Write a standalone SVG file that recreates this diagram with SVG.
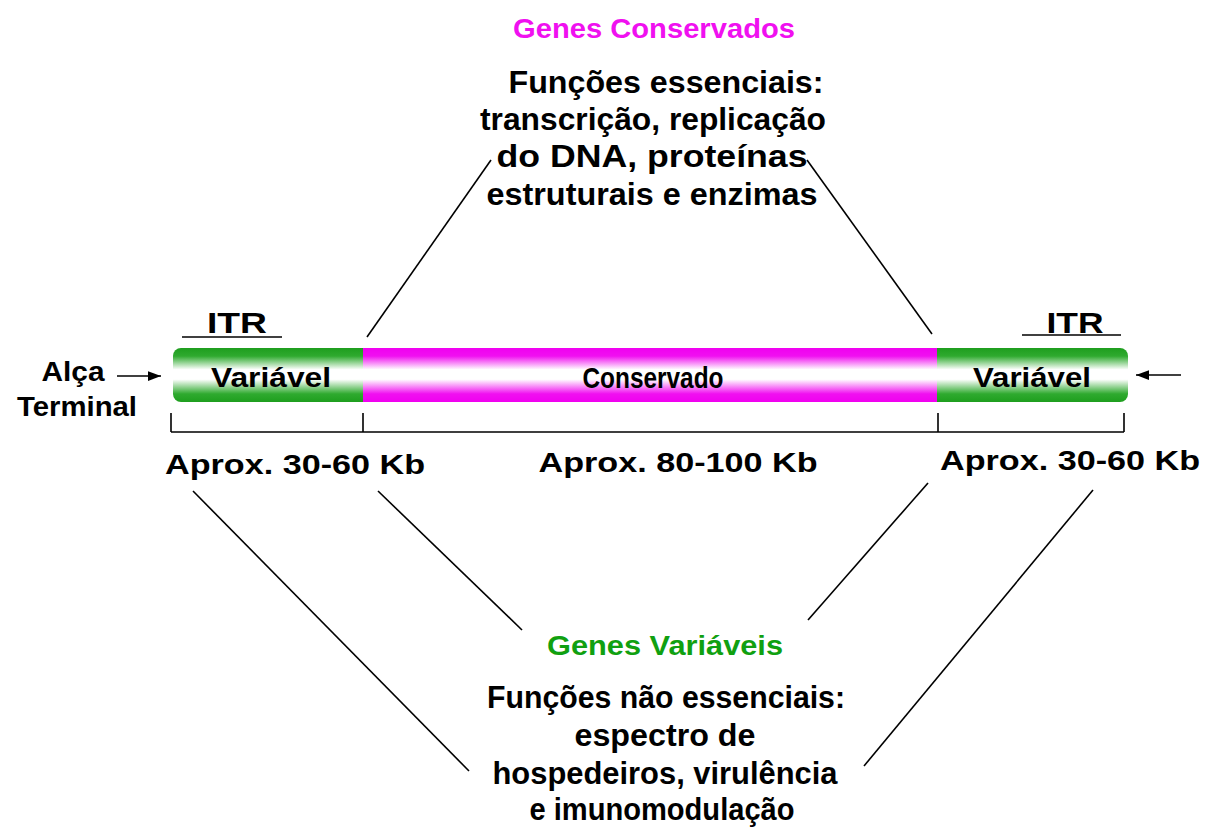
<svg xmlns="http://www.w3.org/2000/svg" width="1209" height="828" viewBox="0 0 1209 828">
<style>
text{font-family:"Comic Sans MS","Liberation Sans",Arial,sans-serif;font-weight:bold;fill:#000;text-anchor:middle}
.big{font-size:31px}
.mid{font-size:28px}
.mag{fill:#F010F0}
.grn{fill:#10A010}
.ln{stroke:#000;stroke-width:1.6;fill:none}
</style>
<defs>
<linearGradient id="gG" x1="0" y1="0" x2="0" y2="1">
<stop offset="0" stop-color="#1E9E1E"/><stop offset="0.15" stop-color="#2FAA2F"/><stop offset="0.4" stop-color="#fff"/><stop offset="0.58" stop-color="#fff"/><stop offset="0.85" stop-color="#2FAA2F"/><stop offset="1" stop-color="#1E9E1E"/>
</linearGradient>
<linearGradient id="gM" x1="0" y1="0" x2="0" y2="1">
<stop offset="0" stop-color="#F000F0"/><stop offset="0.15" stop-color="#F010F0"/><stop offset="0.4" stop-color="#fff"/><stop offset="0.58" stop-color="#fff"/><stop offset="0.85" stop-color="#F010F0"/><stop offset="1" stop-color="#F000F0"/>
</linearGradient>
<marker id="ah" viewBox="0 0 12 10" refX="12" refY="5" markerWidth="13" markerHeight="11" markerUnits="userSpaceOnUse" orient="auto"><path d="M0,0.5 L12,5 L0,9.5 Z" fill="#000"/></marker>
</defs>
<rect width="1209" height="828" fill="#fff"/>
<g id="connectors">
<line class="ln" x1="367" y1="337" x2="491" y2="160"/>
<line class="ln" x1="932" y1="334" x2="807" y2="160"/>
<line class="ln" x1="193" y1="491" x2="469" y2="771"/>
<line class="ln" x1="378" y1="491" x2="522" y2="630"/>
<line class="ln" x1="928" y1="483" x2="808" y2="620"/>
<line class="ln" x1="1093" y1="490" x2="864" y2="766"/>
<line class="ln" x1="117" y1="376" x2="161" y2="376" marker-end="url(#ah)"/>
<line class="ln" x1="1181" y1="375" x2="1136" y2="375" marker-end="url(#ah)"/>
</g>
<g id="top-label">
<text class="mid mag" x="654" y="38" textLength="282" lengthAdjust="spacingAndGlyphs">Genes Conservados</text>
<text class="big" x="666" y="93" textLength="315" lengthAdjust="spacingAndGlyphs">Funções essenciais:</text>
<text class="big" x="653" y="130" textLength="346" lengthAdjust="spacingAndGlyphs">transcrição, replicação</text>
<text class="big" x="652" y="167" textLength="311" lengthAdjust="spacingAndGlyphs">do DNA, proteínas</text>
<text class="big" x="652" y="205" textLength="331" lengthAdjust="spacingAndGlyphs">estruturais e enzimas</text>
</g>
<g id="bar">
<rect x="173" y="348" width="205" height="54" rx="8" fill="url(#gG)"/>
<rect x="925" y="348" width="203" height="54" rx="8" fill="url(#gG)"/>
<rect x="363" y="348" width="574" height="54" fill="url(#gM)"/>
<text class="mid" x="271" y="387" textLength="120" lengthAdjust="spacingAndGlyphs">Variável</text>
<text class="mid" style="font-size:30px" x="653" y="388" textLength="141" lengthAdjust="spacingAndGlyphs">Conservado</text>
<text class="mid" x="1032" y="387" textLength="118" lengthAdjust="spacingAndGlyphs">Variável</text>
</g>
<g id="itr-left">
<text class="mid" style="font-size:30px" x="237" y="333" textLength="60" lengthAdjust="spacingAndGlyphs">ITR</text>
<line class="ln" x1="182" y1="337" x2="282" y2="337"/>
</g>
<g id="itr-right">
<text class="mid" style="font-size:30px" x="1075" y="333" textLength="57" lengthAdjust="spacingAndGlyphs">ITR</text>
<line class="ln" x1="1022" y1="335" x2="1121" y2="335"/>
</g>
<g id="alca">
<text class="mid" x="73" y="381" textLength="63" lengthAdjust="spacingAndGlyphs">Alça</text>
<text class="mid" x="77" y="416" textLength="120" lengthAdjust="spacingAndGlyphs">Terminal</text>
</g>
<g id="scale">
<path class="ln" d="M171,432 H1124 M171,413 V432 M363,413 V432 M938,413 V432 M1124,413 V432"/>
<text class="mid" x="295" y="474" textLength="260" lengthAdjust="spacingAndGlyphs">Aprox. 30-60 Kb</text>
<text class="mid" x="678" y="472" textLength="279" lengthAdjust="spacingAndGlyphs">Aprox. 80-100 Kb</text>
<text class="mid" x="1070" y="470" textLength="260" lengthAdjust="spacingAndGlyphs">Aprox. 30-60 Kb</text>
</g>
<g id="bottom-label">
<text class="mid grn" x="665" y="655" textLength="236" lengthAdjust="spacingAndGlyphs">Genes Variáveis</text>
<text class="big" x="666" y="708" textLength="358" lengthAdjust="spacingAndGlyphs">Funções não essenciais:</text>
<text class="big" x="665" y="746" textLength="181" lengthAdjust="spacingAndGlyphs">espectro de</text>
<text class="big" x="665" y="784" textLength="345" lengthAdjust="spacingAndGlyphs">hospedeiros, virulência</text>
<text class="big" x="662" y="820" textLength="265" lengthAdjust="spacingAndGlyphs">e imunomodulação</text>
</g>
</svg>
